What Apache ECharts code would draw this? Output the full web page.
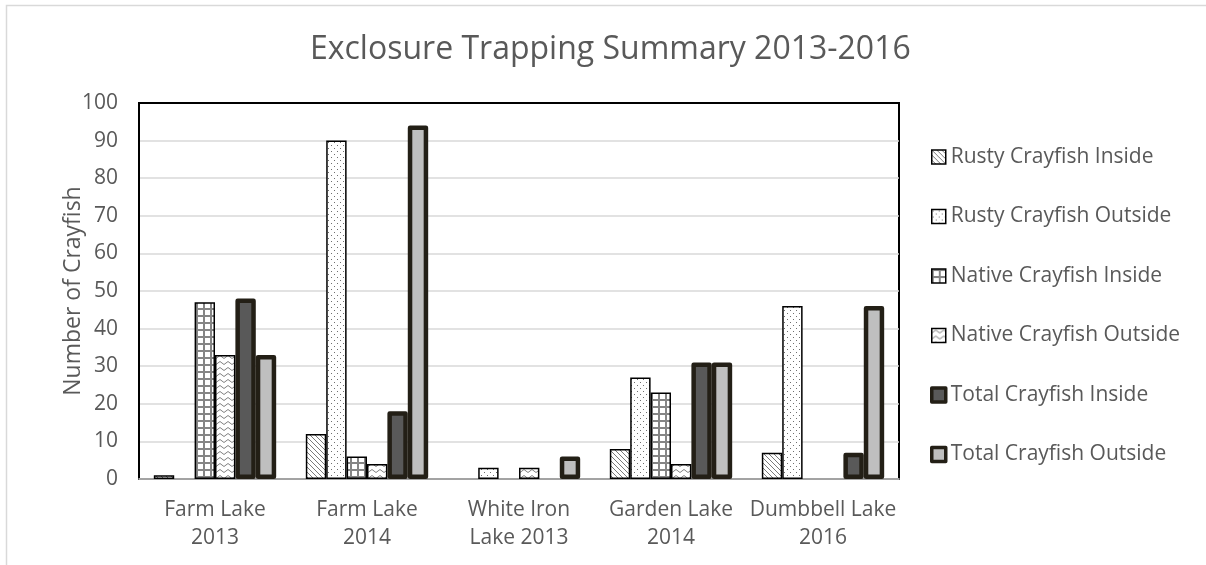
<!DOCTYPE html>
<html><head><meta charset="utf-8">
<script src="https://cdn.jsdelivr.net/npm/echarts@6/dist/echarts.min.js"></script>
<style>html,body{margin:0;padding:0;background:#fff}#chart{width:1206px;height:565px}</style>
</head><body><div id="chart"></div>
<script>
const categories = ['Farm Lake\n2013', 'Farm Lake\n2014', 'White Iron\nLake 2013', 'Garden Lake\n2014', 'Dumbbell Lake\n2016'];
const seriesNames = ['Rusty Crayfish Inside', 'Rusty Crayfish Outside', 'Native Crayfish Inside', 'Native Crayfish Outside', 'Total Crayfish Inside', 'Total Crayfish Outside'];
const rustyInside = [1, 12, 0, 8, 7];
const rustyOutside = [0, 90, 3, 27, 46];
const nativeInside = [47, 6, 0, 23, 0];
const nativeOutside = [33, 4, 3, 4, 0];
const totalInside = [48, 18, 0, 31, 7];
const totalOutside = [33, 94, 6, 31, 46];
const seriesValues = [rustyInside, rustyOutside, nativeInside, nativeOutside, totalInside, totalOutside];
const yMin = 0, yMax = 100, yStep = 10;

function makeCanvas(w, h, draw) {
  const c = document.createElement('canvas');
  c.width = w; c.height = h;
  const g = c.getContext('2d');
  g.fillStyle = '#ffffff'; g.fillRect(0, 0, w, h);
  draw(g);
  return c;
}
const diagTile = makeCanvas(5, 5, g => { g.fillStyle = '#7a7a7a'; for (let i = 0; i < 5; i++) g.fillRect(i, i, 1, 1); });
const dotTile = makeCanvas(6, 6, g => { g.fillStyle = '#6f6f6f'; g.fillRect(1, 1, 1, 1); g.fillRect(4, 4, 1, 1); });
const gridTile = makeCanvas(7, 7, g => { g.fillStyle = '#858585'; g.fillRect(0, 0, 7, 2); g.fillRect(0, 0, 2, 7); });
const zigTile = makeCanvas(8, 6, g => { g.strokeStyle = '#808080'; g.lineWidth = 1; g.beginPath(); g.moveTo(0, 4.5); g.lineTo(4, 1.5); g.lineTo(8, 4.5); g.stroke(); });

const darkBorder = '#231f16';
const barStyles = [
  { color: { image: diagTile, repeat: 'repeat' }, borderColor: '#000', borderWidth: 1.5 },
  { color: { image: dotTile, repeat: 'repeat' }, borderColor: '#000', borderWidth: 1.5 },
  { color: { image: gridTile, repeat: 'repeat' }, borderColor: '#000', borderWidth: 1.5 },
  { color: { image: zigTile, repeat: 'repeat' }, borderColor: '#000', borderWidth: 1.5 },
  { color: '#595959', borderColor: darkBorder, borderWidth: 4.5, borderJoin: 'round' },
  { color: '#bfbfbf', borderColor: darkBorder, borderWidth: 4.5, borderJoin: 'round' }
];
const legendBorder = [1.5, 1.5, 1.5, 1.5, 3.5, 3.5];

const series = seriesNames.map((name, i) => ({
  name: name,
  type: 'bar',
  barGap: '0%',
  barCategoryGap: '19.5%',
  itemStyle: barStyles[i],
  data: seriesValues[i].map(v => v === 0 ? { value: v, itemStyle: { borderWidth: 0 } } : v)
}));

const chart = echarts.init(document.getElementById('chart'), null, { renderer: 'canvas' });
chart.setOption({
  animation: false,
  backgroundColor: '#ffffff',
  textStyle: { fontFamily: 'Open Sans' },
  title: {
    text: 'Exclosure Trapping Summary 2013-2016',
    left: 310, top: 34, padding: 0,
    textStyle: { fontFamily: 'Open Sans', fontSize: 32, fontWeight: 'normal', color: '#595959' }
  },
  graphic: [{
    type: 'polyline', silent: true, z: -10,
    shape: { points: [[6.5, 600], [6.5, 5.5], [1210, 5.5]] },
    style: { stroke: '#d9d9d9', lineWidth: 1.5, fill: null }
  }],
  legend: {
    orient: 'vertical', left: 930, top: 145, padding: 0,
    itemWidth: 14, itemHeight: 14, itemGap: 35.5, icon: 'rect',
    textStyle: { fontFamily: 'Open Sans', fontSize: 21, color: '#595959', lineHeight: 24 },
    data: seriesNames.map((n, i) => ({ name: n, itemStyle: { borderWidth: legendBorder[i] } }))
  },
  grid: { left: 139, right: 307, top: 103, bottom: 86, show: true, borderColor: '#000', borderWidth: 2, backgroundColor: 'transparent' },
  xAxis: {
    type: 'category', data: categories,
    axisTick: { show: false },
    axisLine: { lineStyle: { color: '#d9d9d9', width: 1.5 } },
    axisLabel: { interval: 0, fontSize: 21, lineHeight: 28, color: '#595959', margin: 17, fontFamily: 'Open Sans' }
  },
  yAxis: {
    type: 'value', min: yMin, max: yMax, interval: yStep,
    name: 'Number of Crayfish', nameLocation: 'middle', nameGap: 54, nameMoveOverlap: false,
    nameTextStyle: { fontSize: 23, color: '#595959', fontFamily: 'Open Sans' },
    axisLine: { show: true, lineStyle: { color: '#000', width: 2 } },
    axisTick: { show: false },
    axisLabel: { fontSize: 21, color: '#595959', margin: 21, fontFamily: 'Open Sans' },
    splitLine: { show: true, showMinLine: false, showMaxLine: false, lineStyle: { color: '#d9d9d9', width: 1.5 } }
  },
  series: series
});
</script></body></html>
